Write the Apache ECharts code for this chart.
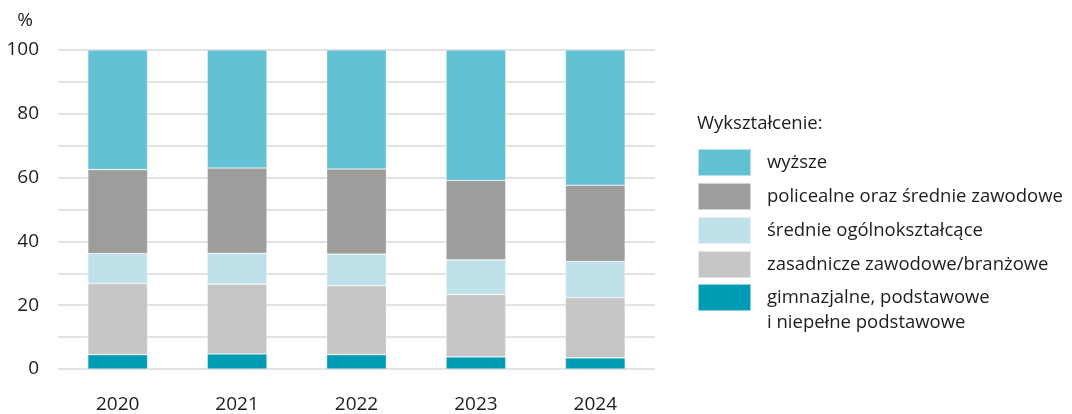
<!DOCTYPE html>
<html><head><meta charset="utf-8">
<script src="https://cdn.jsdelivr.net/npm/echarts@6/dist/echarts.min.js"></script>
<style>html,body{margin:0;padding:0;background:#fff}#c{width:1072px;height:414px}</style>
</head><body><div id="c"></div><script>
const years = ['2020', '2021', '2022', '2023', '2024'];
const yTicks = [0, 20, 40, 60, 80, 100];
const nameWyzsze = 'wyższe';
const namePolicealne = 'policealne oraz średnie zawodowe';
const nameSrednieOgolne = 'średnie ogólnokształcące';
const nameZasadnicze = 'zasadnicze zawodowe/branżowe';
const nameGimnazjalne = 'gimnazjalne, podstawowe\ni niepełne podstawowe';
const legendTitle = 'Wykształcenie:';
const unitLabel = '%';

const gimnazjalne = [4.5, 4.7, 4.5, 3.8, 3.5];
const zasadnicze = [22.3, 21.9, 21.6, 19.6, 18.9];
const srednieOgolne = [9.4, 9.7, 9.9, 10.8, 11.3];
const policealne = [26.3, 26.7, 26.7, 24.9, 23.9];
const wyzsze = [37.5, 37.0, 37.3, 40.9, 42.4];

const FONT = 'Open Sans';
const TXT = '#1d1d1b';
const colors = {
  wyzsze: '#63c1d4',
  policealne: '#9d9d9c',
  srednie: '#bfe1e9',
  zasadnicze: '#c6c6c6',
  gimnazjalne: '#009bb4'
};

function bar(name, data, color) {
  return {
    name: name, type: 'bar', stack: 'total', data: data, barWidth: '50%',
    itemStyle: { color: color, borderColor: 'rgba(255,255,255,0.55)', borderWidth: 0.6 },
    emphasis: { disabled: true }
  };
}

const legendText = { fontFamily: FONT, fontSize: 18.5, color: TXT, lineHeight: 25, padding: [0, 0, 0, 11] };

const chart = echarts.init(document.getElementById('c'), null, { renderer: 'canvas' });
chart.setOption({
  animation: false,
  backgroundColor: '#ffffff',
  title: {
    text: legendTitle, left: 697, top: 114, padding: 0,
    textStyle: { fontFamily: FONT, fontSize: 18.5, fontWeight: 'normal', color: TXT }
  },
  legend: [{
    data: [nameWyzsze, namePolicealne, nameSrednieOgolne, nameZasadnicze],
    orient: 'vertical', left: 697, top: 148, padding: 0,
    itemWidth: 53, itemHeight: 27, itemGap: 5, icon: 'rect',
    selectedMode: false, textStyle: legendText
  }, {
    data: [nameGimnazjalne],
    formatter: function (n) { return '\n' + n; },
    orient: 'vertical', left: 697, top: 260, padding: 0,
    itemWidth: 53, itemHeight: 27, icon: 'rect',
    selectedMode: false, textStyle: legendText
  }],
  grid: { left: 58, right: 417, top: 50, bottom: 42, containLabel: false },
  xAxis: {
    type: 'category', data: years,
    axisLine: { show: false }, axisTick: { show: false },
    axisLabel: { fontFamily: FONT, fontSize: 19, color: TXT, margin: 26 }
  },
  yAxis: {
    type: 'value', min: 0, max: 100, interval: 10,
    name: unitLabel, nameLocation: 'end', nameGap: 20,
    nameTextStyle: { fontFamily: FONT, fontSize: 19, color: TXT, align: 'right', padding: [0, 25, 0, 0] },
    axisLine: { show: false }, axisTick: { show: false },
    axisLabel: {
      fontFamily: FONT, fontSize: 19, color: TXT, margin: 19,
      formatter: function (v) { return yTicks.indexOf(v) >= 0 ? String(v) : ''; }
    },
    splitLine: { lineStyle: { color: '#dadada', width: 1.5 } }
  },
  series: [
    bar(nameGimnazjalne, gimnazjalne, colors.gimnazjalne),
    bar(nameZasadnicze, zasadnicze, colors.zasadnicze),
    bar(nameSrednieOgolne, srednieOgolne, colors.srednie),
    bar(namePolicealne, policealne, colors.policealne),
    bar(nameWyzsze, wyzsze, colors.wyzsze)
  ]
});
</script></body></html>
